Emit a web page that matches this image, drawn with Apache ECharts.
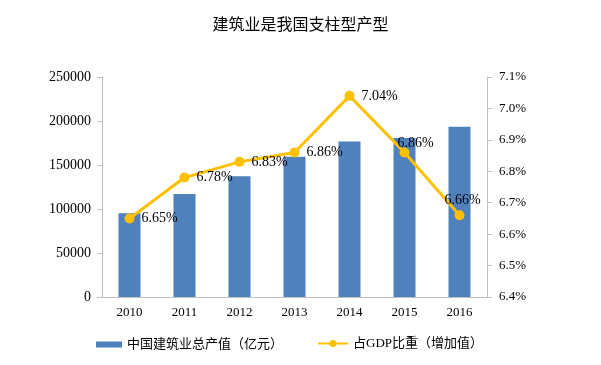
<!DOCTYPE html>
<html><head><meta charset="utf-8">
<script src="https://cdn.jsdelivr.net/npm/echarts@6/dist/echarts.min.js"></script>
<style>html,body{margin:0;padding:0;background:#fff}#c{width:601px;height:365px}</style>
</head><body><div id="c"></div>
<script>
const years = ['2010','2011','2012','2013','2014','2015','2016'];
const outputValues = [95206, 117060, 137218, 159313, 176713, 180757, 193567];
const gdpShare = [6.65, 6.78, 6.83, 6.86, 7.04, 6.86, 6.66];
const barName = '中国建筑业总产值（亿元）';
const lineName = '占GDP比重（增加值）';
const titleText = '建筑业是我国支柱型产型';

const serif = '"Liberation Serif","Times New Roman","Noto Sans CJK SC",serif';
const axisColor = '#bfbfbf';
const labelCfg = [
  { position: 'right' }, { position: 'right' }, { position: 'right' }, { position: 'right' },
  { position: 'right' },
  { position: 'top', distance: 0, offset: [11, 3] },
  { position: 'top', distance: 3, offset: [3, 0] }
];

const chart = echarts.init(document.getElementById('c'));
chart.setOption({
  animation: false,
  title: { text: titleText, left: 'center', top: 11,
    textStyle: { fontFamily: '"Noto Sans CJK SC",sans-serif', fontSize: 16, fontWeight: 'normal', color: '#000' } },
  grid: { left: 102, right: 114, top: 77, bottom: 68 },
  legend: [
    { data: [{name: barName, icon: 'rect'}], left: 91, top: 333, itemWidth: 26, itemHeight: 6, itemGap: 5,
      textStyle: { fontFamily: serif, fontSize: 13, color: '#000' } },
    { data: [lineName], left: 312, top: 332, itemWidth: 30, itemHeight: 9,
      textStyle: { fontFamily: serif, fontSize: 13, color: '#000' } }
  ],
  xAxis: { type: 'category', data: years,
    axisLine: { lineStyle: { color: axisColor } },
    axisTick: { lineStyle: { color: axisColor } },
    axisLabel: { fontFamily: serif, fontSize: 13, color: '#000', margin: 9 } },
  yAxis: [
    { type: 'value', min: 0, max: 250000, interval: 50000, splitLine: { show: false },
      axisLine: { show: true, lineStyle: { color: axisColor } },
      axisTick: { show: true, lineStyle: { color: axisColor } },
      axisLabel: { fontFamily: serif, fontSize: 14, color: '#000', margin: 11,
        formatter: v => String(v) } },
    { type: 'value', min: 6.4, max: 7.1, interval: 0.1, splitLine: { show: false },
      axisLine: { show: true, lineStyle: { color: axisColor } },
      axisTick: { show: true, lineStyle: { color: axisColor } },
      axisLabel: { fontFamily: serif, fontSize: 13, color: '#000', margin: 12,
        formatter: v => v.toFixed(1) + '%' } }
  ],
  series: [
    { name: barName, type: 'bar', data: outputValues, barWidth: 22,
      itemStyle: { color: '#4F81BD' } },
    { name: lineName, type: 'line', yAxisIndex: 1, symbol: 'circle', symbolSize: 10,
      lineStyle: { color: '#FFC000', width: 3 }, itemStyle: { color: '#FFC000' },
      data: gdpShare.map((v, i) => ({ value: v, label: labelCfg[i] })),
      label: { show: true, distance: 7, fontFamily: serif, fontSize: 14, color: '#000',
        formatter: p => p.value.toFixed(2) + '%' } }
  ]
});
</script></body></html>
